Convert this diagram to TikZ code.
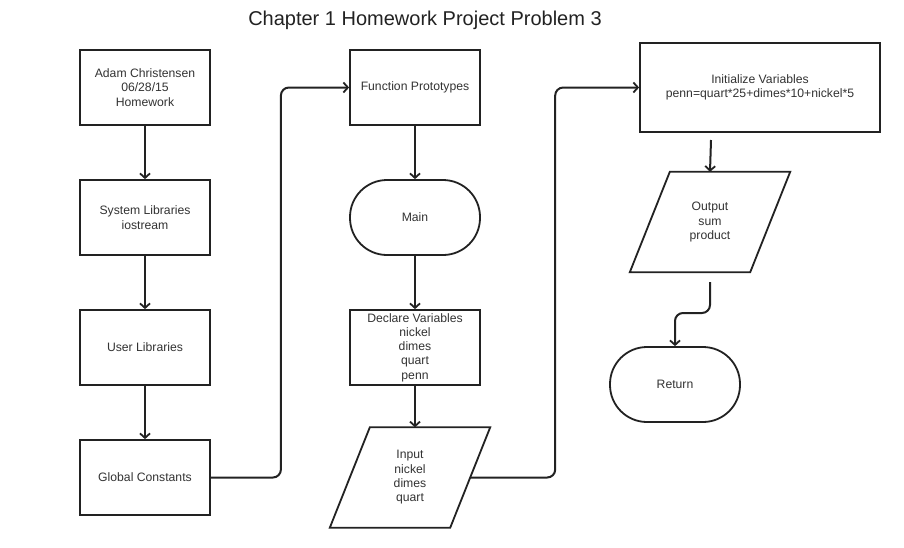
\documentclass[tikz,border=0pt]{standalone}
\usepackage{fontspec}
\setmainfont{Liberation Sans}
\usetikzlibrary{arrows.meta,calc}
\definecolor{ink}{HTML}{222222}
\definecolor{txt}{HTML}{333333}
\begin{document}
\begin{tikzpicture}[x=1pt,y=-1pt,
  box/.style={draw=ink,line width=1.8pt,minimum width=130pt,minimum height=75pt,
    align=center,font=\fontsize{12.2}{14.3}\selectfont,text=txt,inner sep=2pt},
  term/.style={box,rounded corners=37pt},
  iobox/.style={minimum width=120pt,minimum height=100pt,align=center,
    font=\fontsize{12.2}{14.3}\selectfont,text=txt,inner sep=0pt},
  ioline/.style={draw=ink,line width=1.8pt},
  conn/.style={draw=ink,line width=2pt,-{Straight Barb[length=4.5pt,width=10pt,line width=1.8pt]}}
]
\useasboundingbox (0,0) rectangle (904,547);
\fill[white] (0,0) rectangle (904,547);
\node[font=\fontsize{20}{22}\selectfont,text=ink] (title) at (425,20) {Chapter 1 Homework Project Problem 3};

\node[box] (adam) at (145,87.5) {Adam Christensen\\06/28/15\\Homework};
\node[box] (sys) at (145,217.5) {System Libraries\\iostream};
\node[box] (usr) at (145,347.5) {User Libraries};
\node[box] (gc) at (145,477.5) {Global Constants};

\node[box] (fp) at (415,87.5) {Function Prototypes};
\node[term] (main) at (415,217.5) {Main};
\node[box] (decl) at (415,347.5) {Declare Variables\\nickel\\dimes\\quart\\penn};
\node[iobox] (input) at (410,477.5) {Input\\nickel\\dimes\\quart};
\draw[ioline] ([xshift=20pt]input.north west) -- ([xshift=20pt]input.north east)
  -- ([xshift=-20pt]input.south east) -- ([xshift=-20pt]input.south west) -- cycle;

\node[box,minimum width=240pt,minimum height=89pt] (init) at (760,87.5) {Initialize Variables\\penn=quart*25+dimes*10+nickel*5};
\node[iobox] (out) at (710,222) {Output\\sum\\product};
\draw[ioline] ([xshift=20pt]out.north west) -- ([xshift=20pt]out.north east)
  -- ([xshift=-20pt]out.south east) -- ([xshift=-20pt]out.south west) -- cycle;
\node[term] (ret) at (675,384.5) {Return};

\draw[conn] (adam) -- (sys);
\draw[conn] (sys) -- (usr);
\draw[conn] (usr) -- (gc);
\draw[conn,rounded corners=8pt] (gc.east) -- ++(70,0) |- (fp.west);
\draw[conn] (fp) -- (main);
\draw[conn] (main) -- (decl);
\draw[conn] (decl.south) -- ([xshift=5pt]input.north);
\draw[conn,rounded corners=8pt] (input.east) -- ++(85,0) |- (init.west);
\coordinate (a1) at (711,140);
\draw[conn] (a1) -- (out.north);
\coordinate (b1) at (710,282);
\draw[conn,rounded corners=8pt] (b1) -- (710,313) -- (675,313) -- (ret.north);
\end{tikzpicture}
\end{document}
